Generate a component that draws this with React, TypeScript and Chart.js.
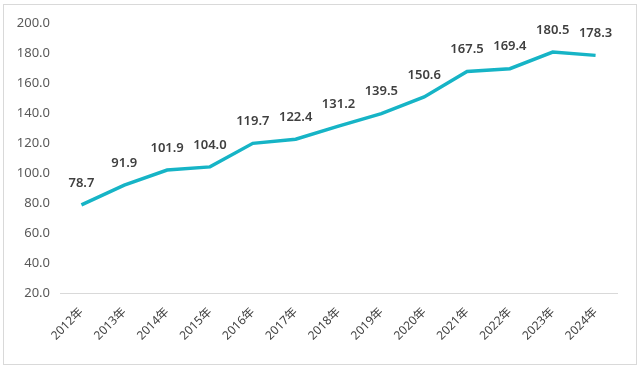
import React, { useEffect, useRef } from "react";
import { Chart, registerables } from "chart.js";

Chart.register(...registerables);

const years = ["2012年", "2013年", "2014年", "2015年", "2016年", "2017年", "2018年", "2019年", "2020年", "2021年", "2022年", "2023年", "2024年"];
const values = [78.7, 91.9, 101.9, 104.0, 119.7, 122.4, 131.2, 139.5, 150.6, 167.5, 169.4, 180.5, 178.3];
const yMin = 20;
const yMax = 200;
const yStep = 20;

const labelPlugin = {
  id: "valueLabels",
  afterDatasetsDraw(chart: any) {
    const ctx = chart.ctx;
    const meta = chart.getDatasetMeta(0);
    ctx.save();
    ctx.font = "600 13px 'Noto Sans', 'DejaVu Sans', sans-serif";
    ctx.fillStyle = "#404040";
    ctx.textAlign = "center";
    ctx.textBaseline = "middle";
    meta.data.forEach((pt: any, i: number) => {
      const v = chart.data.datasets[0].data[i] as number;
      ctx.fillText(v.toFixed(1), pt.x, pt.y - 22);
    });
    ctx.restore();
  },
};

export default function App() {
  const ref = useRef<HTMLCanvasElement | null>(null);
  useEffect(() => {
    if (!ref.current) return;
    const chart = new Chart(ref.current, {
      type: "line",
      data: {
        labels: years,
        datasets: [
          {
            data: values,
            borderColor: "#16b4c6",
            borderWidth: 3.5,
            pointRadius: 0,
            tension: 0,
            fill: false,
          },
        ],
      },
      options: {
        animation: false,
        responsive: false,
        maintainAspectRatio: false,
        layout: { padding: { top: 15, right: 19, left: 0, bottom: 0 } },
        plugins: { legend: { display: false }, tooltip: { enabled: false } },
        scales: {
          x: {
            offset: true,
            grid: { display: false, drawTicks: false },
            border: { display: true, color: "#d9d9d9", width: 1 },
            ticks: {
              maxRotation: 45,
              minRotation: 45,
              autoSkip: false,
              padding: 12,
              color: "#404040",
              font: { size: 12, family: "'Noto Sans', 'Noto Sans CJK SC', sans-serif" },
            },
            afterFit(scale: any) {
              scale.height = 71;
            },
          },
          y: {
            min: yMin,
            max: yMax,
            grid: { display: false, drawTicks: false },
            border: { display: false },
            ticks: {
              stepSize: yStep,
              padding: 10,
              color: "#595959",
              font: { size: 13, family: "'Noto Sans', 'DejaVu Sans', sans-serif" },
              callback: (v: any) => Number(v).toFixed(1),
            },
            afterFit(scale: any) {
              scale.width = 56;
            },
          },
        },
      },
      plugins: [labelPlugin],
    });
    return () => chart.destroy();
  }, []);
  return (
    <div
      style={{
        position: "fixed",
        left: 3,
        top: 4,
        width: 632,
        height: 359,
        border: "1px solid #d9d9d9",
        background: "#fff",
      }}
    >
      <canvas ref={ref} width={632} height={359} style={{ display: "block" }} />
    </div>
  );
}
